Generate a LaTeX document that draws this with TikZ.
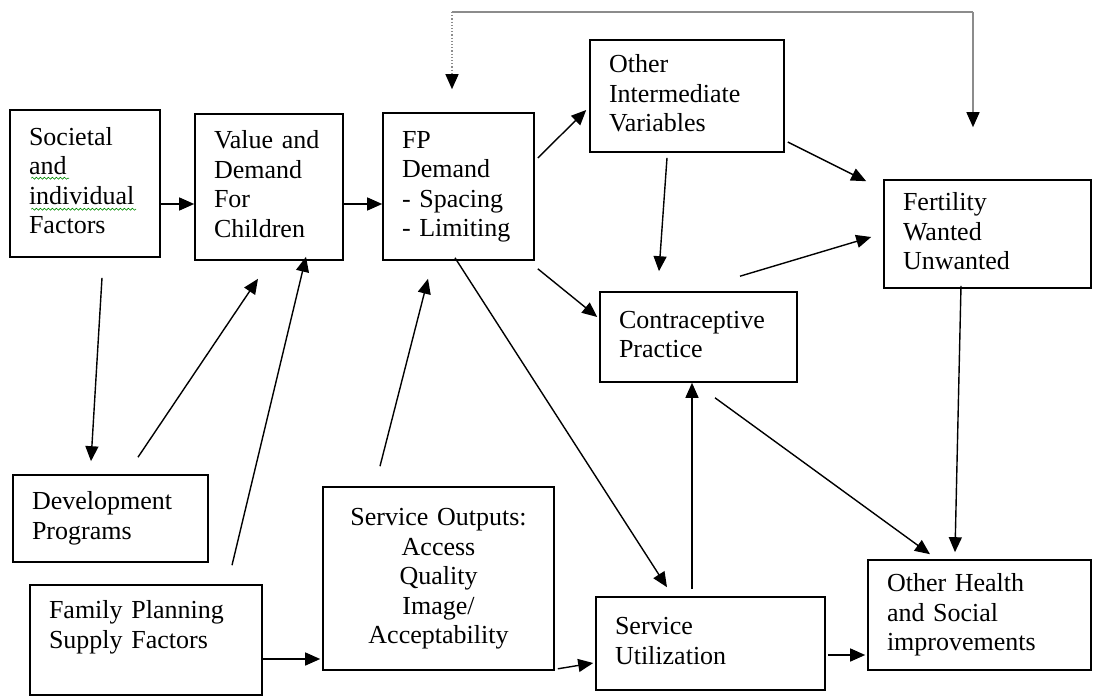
\documentclass[tikz,border=0pt]{standalone}
\usepackage{fontspec}
\setmainfont{Liberation Serif}
\usetikzlibrary{arrows.meta,decorations.pathmorphing}
\begin{document}
\begin{tikzpicture}[x=1pt,y=-1pt,
  box/.style={draw=black, line width=1.6pt, rectangle, inner xsep=19pt, inner ysep=0pt,
    align=left, font=\fontsize{26}{29.5}\selectfont, text height=19pt},
  arr/.style={line width=1.4pt, -{Triangle[length=15pt,width=13pt]}},
  fb/.style={line width=1.4pt, draw=black!45},
  squiggle/.style={draw=green!55!black, line width=0.6pt, decorate,
    decoration={snake, amplitude=1pt, segment length=4pt}}
]
\useasboundingbox (0,0) rectangle (1093,696);
\fill[white] (0,0) rectangle (1093,696);

% boxes
\node[box, minimum width=150pt, minimum height=147pt, text width=112pt, text depth=95.5pt]
  (soc) at (85,183.5) {Societal\\and\\individual\\Factors};
\node[box, minimum width=148pt, minimum height=146pt, text width=110pt, text depth=95.5pt]
  (val) at (269,187) {Value and\\Demand\\For\\Children};
\node[box, minimum width=151pt, minimum height=147pt, text width=113pt, text depth=95.5pt]
  (fp) at (458.5,186.5) {FP\\Demand\\- Spacing\\- Limiting};
\node[box, minimum width=194pt, minimum height=112pt, text width=156pt, text depth=66pt]
  (oiv) at (687,96) {Other\\Intermediate\\Variables};
\node[box, minimum width=207pt, minimum height=108pt, text width=169pt, text depth=66pt]
  (fert) at (987.5,234) {Fertility\\Wanted\\Unwanted};
\node[box, minimum width=197pt, minimum height=90pt, text width=159pt, text depth=36.5pt]
  (cp) at (698.5,337) {Contraceptive\\Practice};
\node[box, minimum width=195pt, minimum height=87pt, text width=157pt, text depth=36.5pt]
  (dev) at (110.5,518.5) {Development\\Programs};
\node[box, minimum width=232pt, minimum height=110pt, text width=194pt, text depth=61.5pt]
  (fps) at (146,640) {Family Planning\\Supply Factors};
\node[box, align=center, minimum width=231pt, minimum height=183pt, text width=193pt, text depth=125pt]
  (so) at (438.5,578.5) {Service Outputs:\\Access\\Quality\\Image/\\Acceptability};
\node[box, minimum width=229pt, minimum height=93pt, text width=191pt, text depth=36.5pt]
  (su) at (710.5,643.5) {Service\\Utilization};
\node[box, minimum width=223pt, minimum height=110pt, text width=185pt, text depth=66pt]
  (oh) at (979.5,615) {Other Health\\and Social\\improvements};

% spell-check underlines
\draw[squiggle] ([shift={(22,69)}]soc.north west) -- ([shift={(60,69)}]soc.north west);
\draw[squiggle] ([shift={(22,100)}]soc.north west) -- ([shift={(127,100)}]soc.north west);

% connectors
\draw[arr] ([shift={(0,20.5)}]soc.east) -- ([shift={(0,20.5)}]soc.east -| val.west);
\draw[arr] ([shift={(0,17)}]val.east) -- ([shift={(0,17)}]val.east -| fp.west);
\draw[arr] ([shift={(3,-28.5)}]fp.east) -- ([shift={(-3,14)}]oiv.west);
\draw[arr] ([shift={(3,46)}]oiv.east) -- ([shift={(-17,2)}]fert.north west);
\draw[arr] ([shift={(-20,5)}]oiv.south) -- ([shift={(-39.5,-20)}]cp.north);
\draw[arr] ([shift={(3,8)}]fp.south east) -- ([shift={(-2,-20)}]cp.west);
\draw[arr] ([shift={(41.5,-15)}]cp.north) -- ([shift={(-12,3)}]fert.west);
\draw[arr] ([shift={(17,20)}]soc.south) -- ([shift={(-19.5,-13)}]dev.north);
\draw[arr] ([shift={(27.5,-17)}]dev.north) -- ([shift={(-11,18)}]val.south);
\draw[arr] ([shift={(86,-19)}]fps.north) -- ([shift={(37,-4)}]val.south);
\draw[arr] ([shift={(-58.5,-20)}]so.north) -- ([shift={(-30.5,18)}]fp.south);
\draw[arr] ([shift={(-3.5,-3)}]fp.south) -- ([shift={(-43.5,-9)}]su.north);
\draw[arr] ([shift={(-18.5,-7)}]su.north) -- ([shift={(-18.5,0)}]su.north |- cp.south);
\draw[arr] ([shift={(16.5,15)}]cp.south) -- ([shift={(-49.5,-5)}]oh.north);
\draw[arr] ([shift={(-26.5,-3)}]fert.south) -- ([shift={(-24.5,-7)}]oh.north);
\draw[arr] ([shift={(0,19)}]fps.east) -- ([shift={(-2,80.5)}]so.west);
\draw[arr] ([shift={(3,-2)}]so.south east) -- ([shift={(-2,19.5)}]su.west);
\draw[arr] ([shift={(2,11.5)}]su.east) -- ([shift={(-2,40)}]oh.west);

% feedback loop at the top
\coordinate (tl) at (452,12);
\coordinate (tr) at (973,12);
\draw[fb] (tl) -- (tr);
\draw[fb, line width=1.2pt, dotted, -{Triangle[length=15pt,width=13pt,color=black]}]
  (tl) -- ([shift={(-6.5,-23)}]fp.north);
\draw[fb, -{Triangle[length=15pt,width=13pt,color=black]}]
  (tr) -- ([shift={(-14.5,-52)}]fert.north);
\end{tikzpicture}
\end{document}
